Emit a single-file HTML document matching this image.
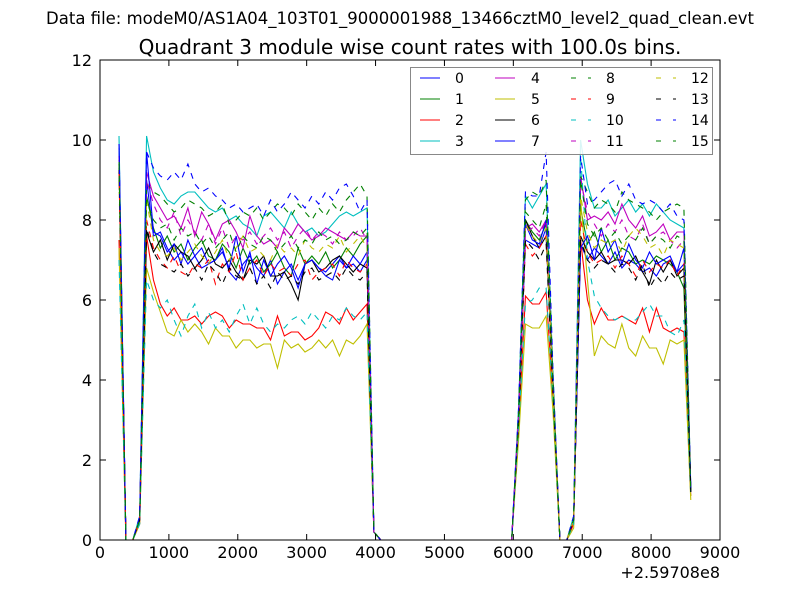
<!DOCTYPE html>
<html><head><meta charset="utf-8"><style>
body{margin:0;background:#fff;}
svg{display:block;font-family:"DejaVu Sans","Liberation Sans",sans-serif;}
</style></head><body>
<svg id="chart" width="800" height="600" viewBox="0 0 800 600" xmlns="http://www.w3.org/2000/svg">
<rect width="800" height="600" fill="#fff"/>
<text x="400" y="24" text-anchor="middle" font-size="16.5">Data file: modeM0/AS1A04_103T01_9000001988_13466cztM0_level2_quad_clean.evt</text>
<text x="410" y="54" text-anchor="middle" font-size="20">Quadrant 3 module wise count rates with 100.0s bins.</text>
<g id="plot"></g>
<g id="axes"></g>
<g id="legend"></g>
</svg>
<script>
const times = [276,376,476,576,676,776,876,976,1076,1176,1276,1376,1476,1576,1676,1776,1876,1976,2076,2176,2276,2376,2476,2576,2676,2776,2876,2976,3076,3176,3276,3376,3476,3576,3676,3776,3876,3976,4076,4176,4276,4376,4476,4576,4676,4776,4876,4976,5076,5176,5276,5376,5476,5576,5676,5776,5876,5976,6076,6176,6276,6376,6476,6576,6676,6776,6876,6976,7076,7176,7276,7376,7476,7576,7676,7776,7876,7976,8076,8176,8276,8376,8476,8576];
const seriesLabels = ["0","1","2","3","4","5","6","7","8","9","10","11","12","13","14","15"];
const xTicks = [0,1000,2000,3000,4000,5000,6000,7000,8000,9000];
const yTicks = [0,2,4,6,8,10,12];
const s0 = [9.8,0,0,0.5, 9.0,7.6,7.7,7.3,7.0,7.2,6.9,7.1,6.8,6.9,7.0,7.3,6.7,6.5,6.9,7.1,6.8,6.6,7.0,6.4,6.7,6.9,6.5,6.9,7.0,6.8,6.7,6.9,7.1,6.8,6.9,6.7,7.0, 0.2, 0,0,0,0,0,0,0,0,0,0,0,0,0,0,0,0,0,0,0,0, 3.0, 7.5,7.4,7.3,7.8, 3.8, 0,0, 0.5, 7.4,7.0,7.3,7.1,6.9,7.2,6.8,7.0,6.9,6.7,6.8,6.6,6.9,7.0,6.7,6.9, 1.3];
const s1 = [9.5,0,0,0.5, 8.6,7.8,7.3,7.6,7.2,7.4,7.0,7.3,7.5,7.1,7.0,7.4,7.2,6.8,7.3,6.9,7.1,6.7,6.9,7.2,6.8,6.6,7.3,6.9,7.1,6.9,7.2,6.8,7.0,7.3,7.1,7.4,7.6, 0.2, 0,0,0,0,0,0,0,0,0,0,0,0,0,0,0,0,0,0,0,0, 3.1, 8.0,7.7,7.5,7.9, 3.9, 0,0, 0.5, 8.3,7.4,7.7,7.2,7.5,7.0,7.3,7.2,6.9,7.0,6.9,7.1,7.0,6.9,6.7,6.3, 1.2];
const s2 = [7.5,0,0,0.4, 7.6,6.5,5.9,5.6,5.8,5.5,5.5,5.6,5.4,5.6,5.7,5.6,5.3,5.5,5.4,5.4,5.3,5.3,5.0,5.6,5.1,5.2,5.2,5.0,5.1,5.3,5.7,5.6,5.4,5.8,5.5,5.7,5.9, 0.2, 0,0,0,0,0,0,0,0,0,0,0,0,0,0,0,0,0,0,0,0, 2.8, 6.1,5.9,5.9,6.2, 3.5, 0,0, 0.4, 7.5,6.0,5.4,5.8,5.5,5.5,5.6,5.5,5.4,5.8,5.2,5.8,5.3,5.2,5.3,5.2, 1.1];
const s3 = [10.1,0,0,0.6, 10.1,9.2,8.8,8.5,8.4,8.6,8.7,8.7,8.5,8.3,8.2,8.3,8.0,8.1,7.9,7.8,7.6,8.1,8.2,8.0,7.8,8.2,7.9,7.7,7.8,7.6,7.7,7.9,8.1,8.2,8.1,8.2,8.3, 0.2, 0,0,0,0,0,0,0,0,0,0,0,0,0,0,0,0,0,0,0,0, 3.3, 8.6,8.3,8.6,8.9, 4.1, 0,0, 0.6, 10.0,8.9,8.3,8.3,8.5,8.1,8.3,8.5,8.2,8.4,8.1,8.4,8.2,8.0,7.9,7.8, 1.3];
const s4 = [9.6,0,0,0.5, 9.2,8.6,8.3,8.0,8.1,7.8,8.3,7.6,8.2,7.9,7.5,7.9,8.0,7.7,7.3,8.1,7.6,7.4,7.5,7.3,7.8,7.6,7.9,7.7,7.5,7.6,7.8,7.7,7.6,7.5,7.7,7.6,7.6, 0.2, 0,0,0,0,0,0,0,0,0,0,0,0,0,0,0,0,0,0,0,0, 3.1, 7.8,7.9,7.7,8.0, 3.9, 0,0, 0.5, 9.1,8.0,8.1,8.0,8.2,7.9,8.4,8.0,7.8,8.1,7.6,7.7,7.9,7.5,7.7,7.7, 1.2];
const s5 = [7.3,0,0,0.4, 6.8,6.2,5.7,5.2,5.1,5.5,5.2,5.4,5.2,4.9,5.3,5.1,5.1,4.8,5.0,5.0,4.8,4.9,4.9,4.3,5.0,4.8,4.9,4.7,4.8,5.0,4.8,5.0,4.6,5.0,4.9,5.1,5.4, 0.2, 0,0,0,0,0,0,0,0,0,0,0,0,0,0,0,0,0,0,0,0, 2.5, 5.4,5.3,5.3,5.6, 3.2, 0,0, 0.3, 8.5,6.5,4.6,5.1,4.9,4.8,5.4,4.8,4.6,5.1,4.8,4.8,4.4,5.0,4.9,5.0, 1.0];
const s6 = [9.4,0,0,0.5, 7.7,7.2,7.5,7.0,7.4,7.2,7.1,6.8,7.0,7.3,6.9,6.8,7.0,6.7,6.5,7.0,6.9,7.1,6.6,6.6,6.7,6.4,6.0,6.9,7.0,6.7,6.8,7.0,7.1,6.9,6.7,6.9,6.8, 0.2, 0,0,0,0,0,0,0,0,0,0,0,0,0,0,0,0,0,0,0,0, 3.0, 8.0,7.6,7.3,7.6, 3.8, 0,0, 0.5, 7.6,7.2,7.0,7.2,6.9,7.0,7.0,6.9,7.1,6.7,6.4,7.0,6.7,7.0,6.6,6.8, 1.2];
const s7 = [9.9,0,0,0.5, 9.7,7.7,7.6,7.2,7.4,6.9,7.5,7.1,7.3,6.9,7.0,7.2,6.8,7.6,6.7,7.2,6.4,7.0,6.6,6.9,7.1,6.8,6.3,6.9,7.0,6.8,6.6,6.5,7.0,6.8,7.1,6.9,7.2, 0.2, 0,0,0,0,0,0,0,0,0,0,0,0,0,0,0,0,0,0,0,0, 3.0, 7.9,7.5,7.4,8.0, 3.9, 0,0, 0.5, 7.3,7.6,7.0,7.8,7.2,7.5,6.9,7.4,7.0,6.8,7.2,6.9,7.0,7.1,6.7,7.3, 1.3];
const s8 = [9.5,0,0,0.5, 8.9,8.7,8.6,8.4,8.2,8.3,8.5,8.4,8.3,8.1,8.2,8.4,7.9,8.0,8.2,8.1,8.3,8.0,8.2,8.4,8.3,8.1,8.4,8.2,8.0,8.3,8.1,8.4,8.2,8.5,8.7,8.9,8.6, 0.2, 0,0,0,0,0,0,0,0,0,0,0,0,0,0,0,0,0,0,0,0, 3.2, 8.5,8.7,8.6,9.0, 4.0, 0,0, 0.5, 9.1,8.7,8.3,8.5,8.4,8.2,8.7,8.5,8.4,8.3,8.2,8.0,8.2,8.3,8.4,8.3, 1.2];
const s9 = [9.2,0,0,0.5, 8.0,7.3,7.0,6.8,7.1,6.7,6.6,6.9,6.8,7.0,6.4,6.9,6.7,7.2,6.5,6.8,7.0,6.6,6.9,6.7,6.8,6.6,6.9,7.0,6.5,6.7,6.8,6.9,6.6,7.0,6.8,6.7,6.9, 0.2, 0,0,0,0,0,0,0,0,0,0,0,0,0,0,0,0,0,0,0,0, 3.0, 7.4,7.1,7.3,7.6, 3.8, 0,0, 0.5, 8.0,7.2,6.9,7.0,7.1,6.8,7.1,6.9,6.6,7.0,6.7,6.9,6.8,7.0,6.6,6.9, 1.2];
const s10 = [7.0,0,0,0.4, 6.5,6.0,5.8,6.0,5.5,5.1,5.6,5.9,5.3,5.7,5.3,5.5,5.2,5.6,5.9,5.4,5.8,5.4,5.2,5.4,5.3,5.5,5.6,5.4,5.7,5.5,5.3,5.6,5.5,5.8,5.6,5.5,5.7, 0.2, 0,0,0,0,0,0,0,0,0,0,0,0,0,0,0,0,0,0,0,0, 2.8, 5.9,6.0,6.3,6.3, 3.5, 0,0, 0.4, 9.6,7.0,6.1,5.8,5.6,5.5,5.6,5.5,5.5,5.7,5.9,5.6,5.6,5.2,5.1,5.5, 1.1];
const s11 = [9.6,0,0,0.5, 9.0,8.4,8.0,7.8,8.2,7.6,8.0,7.7,7.5,7.9,7.4,7.8,7.3,7.6,7.5,7.7,7.4,7.6,7.8,7.5,7.7,7.3,7.6,7.8,7.5,7.7,7.6,7.4,7.7,7.5,7.6,7.8,7.5, 0.2, 0,0,0,0,0,0,0,0,0,0,0,0,0,0,0,0,0,0,0,0, 3.1, 7.7,7.8,7.6,8.0, 3.9, 0,0, 0.5, 9.0,8.2,7.9,7.6,7.9,7.7,8.0,7.6,7.5,7.9,7.4,7.6,7.7,7.5,7.3,7.5, 1.2];
const s12 = [9.0,0,0,0.5, 8.5,7.5,7.2,7.1,7.3,7.0,7.2,7.4,7.1,6.9,7.2,7.5,7.0,7.3,7.6,7.2,7.3,7.1,7.0,7.4,7.2,7.3,7.1,7.5,7.3,7.2,7.4,7.3,7.6,7.2,7.4,7.6,7.3, 0.2, 0,0,0,0,0,0,0,0,0,0,0,0,0,0,0,0,0,0,0,0, 3.0, 7.9,7.6,7.4,7.8, 3.8, 0,0, 0.5, 8.6,7.7,7.3,7.5,7.4,7.5,7.2,7.6,7.8,7.6,7.3,7.4,7.1,7.5,7.4,7.3, 1.1];
const s13 = [9.3,0,0,0.5, 7.8,7.2,6.9,6.8,6.7,6.9,6.6,6.8,6.5,6.9,6.7,6.4,6.8,6.6,6.5,6.8,6.4,6.6,6.3,6.7,6.5,6.6,6.4,6.7,6.8,6.5,6.6,6.7,6.5,6.8,6.6,6.5,6.7, 0.2, 0,0,0,0,0,0,0,0,0,0,0,0,0,0,0,0,0,0,0,0, 2.9, 7.5,7.3,7.0,7.4, 3.7, 0,0, 0.5, 7.5,7.0,6.8,7.0,6.9,6.7,6.9,6.8,6.5,6.9,6.3,6.6,6.4,6.7,6.5,6.6, 1.2];
const s14 = [9.9,0,0,0.6, 9.7,9.3,9.1,9.0,9.2,9.0,9.4,8.9,8.7,8.8,8.6,8.5,8.3,8.4,8.2,8.3,8.4,8.1,8.5,8.2,8.4,8.7,8.5,8.3,8.6,8.4,8.7,8.5,8.8,8.9,8.6,8.2,8.5, 0.2, 0,0,0,0,0,0,0,0,0,0,0,0,0,0,0,0,0,0,0,0, 3.3, 8.7,8.6,8.6,9.7, 4.2, 0,0, 0.6, 9.6,8.4,8.5,8.7,8.9,9.0,8.6,8.9,8.5,8.4,8.5,8.4,8.2,8.4,8.1,8.0, 1.3];
const s15 = [9.4,0,0,0.5, 8.5,8.0,7.8,7.9,7.5,7.8,7.6,7.7,7.4,7.6,7.3,7.5,7.7,7.2,7.6,7.4,7.3,7.6,7.5,7.2,7.4,7.6,7.3,7.5,7.4,7.7,7.5,7.6,7.4,7.5,7.7,7.6,7.8, 0.2, 0,0,0,0,0,0,0,0,0,0,0,0,0,0,0,0,0,0,0,0, 3.1, 8.2,8.0,7.8,8.4, 3.9, 0,0, 0.5, 9.0,7.9,7.6,7.8,7.5,7.7,7.4,7.6,7.5,7.8,7.4,7.6,7.5,7.3,7.6,7.5, 1.2];
const seriesValues = [s0,s1,s2,s3,s4,s5,s6,s7,s8,s9,s10,s11,s12,s13,s14,s15];

const colors = ["#0000ff","#008000","#ff0000","#00bfbf","#bf00bf","#bfbf00","#000000","#0000ff","#008000","#ff0000","#00bfbf","#bf00bf","#bfbf00","#000000","#0000ff","#008000"];
const NS = "http://www.w3.org/2000/svg";
const L = 100, R = 720, T = 60, B = 540;
const xMin = 0, xMax = 9000, yMin = 0, yMax = 12;
function xs(v){ return L + (v - xMin) / (xMax - xMin) * (R - L); }
function ys(v){ return B - (v - yMin) / (yMax - yMin) * (B - T); }
function mk(tag, attrs, parent){ const e = document.createElementNS(NS, tag); for (const k in attrs) e.setAttribute(k, attrs[k]); parent.appendChild(e); return e; }

const plot = document.getElementById('plot');
const clip = mk('clipPath', {id:'clipP'}, plot);
mk('rect', {x:L, y:T, width:R-L, height:B-T}, clip);
const lines = mk('g', {'clip-path':'url(#clipP)'}, plot);
seriesValues.forEach((vals, si) => {
  const pts = vals.map((v, i) => xs(times[i]).toFixed(2) + ',' + ys(v).toFixed(2)).join(' ');
  const pl = mk('polyline', {points: pts, fill:'none', stroke: colors[si], 'stroke-width': 1.1}, lines);
  if (si >= 8) pl.setAttribute('stroke-dasharray', '6,6');
  
  
});

const axes = document.getElementById('axes');
const frame = mk('rect', {x:L, y:T, width:R-L, height:B-T, fill:'none', stroke:'#000', 'stroke-width':1}, axes);


xTicks.forEach(t => {
  const x = xs(t);
  mk('line', {x1:x, y1:B, x2:x, y2:B-6, stroke:'#000'}, axes);
  mk('line', {x1:x, y1:T, x2:x, y2:T+6, stroke:'#000'}, axes);
  const tx = mk('text', {x:x, y:B+18, 'text-anchor':'middle', 'font-size':16}, axes);
  tx.textContent = t;
  
  
});
yTicks.forEach(t => {
  const y = ys(t);
  mk('line', {x1:L, y1:y, x2:L+6, y2:y, stroke:'#000'}, axes);
  mk('line', {x1:R, y1:y, x2:R-6, y2:y, stroke:'#000'}, axes);
  const tx = mk('text', {x:L-8, y:y+6, 'text-anchor':'end', 'font-size':16}, axes);
  tx.textContent = t;
  
  
});
const off = mk('text', {x:R, y:B+38, 'text-anchor':'end', 'font-size':16}, axes);
off.textContent = '+2.59708e8';



const leg = document.getElementById('legend');
const box = mk('rect', {x:410.5, y:67.5, width:302, height:87, fill:'#fff', 'fill-opacity':0.85, stroke:'#888', 'stroke-width':1}, leg);


const colLine = [420, 495, 571, 656];
const colText = [455, 531, 606, 691];
const rowY = [78, 99, 120, 141];
seriesLabels.forEach((lab, si) => {
  const c = Math.floor(si / 4), r = si % 4;
  const g = mk('g', {}, leg);
  
  
  const ln = mk('line', {x1:colLine[c], y1:rowY[r], x2:colLine[c]+20, y2:rowY[r], stroke:colors[si], 'stroke-width':1.1}, g);
  if (si >= 8) ln.setAttribute('stroke-dasharray', '5,12');
  const tx = mk('text', {x:colText[c], y:rowY[r]+5, 'font-size':14}, g);
  tx.textContent = lab;
});
</script>
</body></html>
